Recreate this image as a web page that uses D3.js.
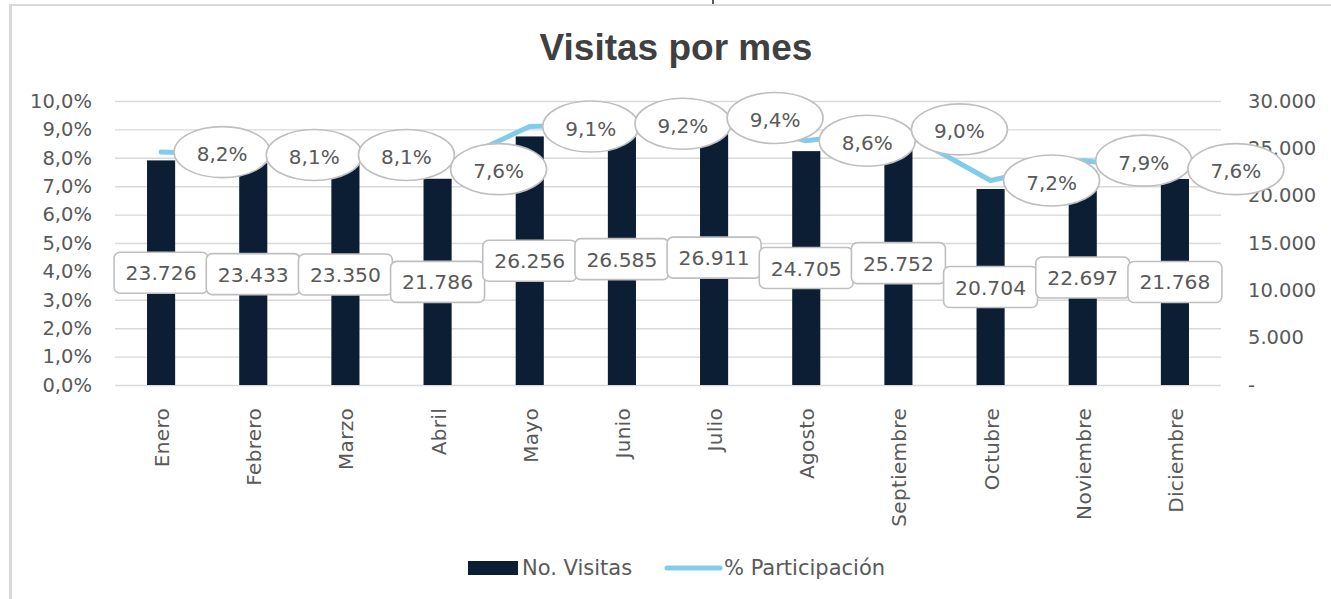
<!DOCTYPE html>
<html>
<head>
<meta charset="utf-8">
<script src="https://cdn.jsdelivr.net/npm/d3@7"></script>
<style>
  body { margin: 0; background: #fff; }
  svg { display: block; }
  text { font-family: "DejaVu Sans", sans-serif; fill: #595959; }
</style>
</head>
<body>
<svg id="chart" width="1331" height="599"></svg>
<script>
// ---- data ----
const titulo = "Visitas por mes";
const meses = ["Enero", "Febrero", "Marzo", "Abril", "Mayo", "Junio", "Julio", "Agosto", "Septiembre", "Octubre", "Noviembre", "Diciembre"];
const visitas = [23726, 23433, 23350, 21786, 26256, 26585, 26911, 24705, 25752, 20704, 22697, 21768];
const participacion = [8.2, 8.1, 8.1, 7.6, 9.1, 9.2, 9.4, 8.6, 9.0, 7.2, 7.9, 7.6];
const pctTicks = [0, 1, 2, 3, 4, 5, 6, 7, 8, 9, 10];
const visTicks = [0, 5000, 10000, 15000, 20000, 25000, 30000];
const leyenda = ["No. Visitas", "% Participación"];

// ---- styles ----
const barColor = "#0c1e34";
const lineColor = "#83cbeb";
const gridColor = "#d9d9d9";
const labelBorder = "#bfbfbf";

const svg = d3.select("#chart");
const plot = { left: 115, right: 1221, top: 101, bottom: 385 };

const locale = d3.formatLocale({ decimal: ",", thousands: ".", grouping: [3], currency: ["", ""] });
const fmtVis = locale.format(",d");
const fmtPct = v => locale.format(".1f")(v) + "%";

// frame
svg.append("line").attr("x1", 9).attr("x2", 1331).attr("y1", 5).attr("y2", 5)
  .attr("stroke", gridColor).attr("stroke-width", 2);
svg.append("line").attr("x1", 10.5).attr("x2", 10.5).attr("y1", 4).attr("y2", 599)
  .attr("stroke", gridColor).attr("stroke-width", 3);
svg.append("line").attr("x1", 713).attr("x2", 713).attr("y1", 0).attr("y2", 4)
  .attr("stroke", "#222").attr("stroke-width", 1.5);

// title
svg.append("text").attr("x", 676).attr("y", 60).attr("text-anchor", "middle")
  .style("font-family", "'Liberation Sans', Arial, sans-serif")
  .style("font-weight", "bold").style("font-size", "37px").style("fill", "#404040")
  .text(titulo);

// scales
const x = d3.scaleBand().domain(meses).range([plot.left, plot.right]).padding(0);
const yPct = d3.scaleLinear().domain([0, 10]).range([plot.bottom, plot.top]);
const yVis = d3.scaleLinear().domain([0, 30000]).range([plot.bottom, plot.top]);
const barW = x.step() * 0.305;
const cx = m => x(m) + x.bandwidth() / 2;

// gridlines
const grid = svg.append("g").attr("transform", `translate(${plot.left},0)`)
  .call(d3.axisLeft(yPct).tickValues(pctTicks).tickSize(-(plot.right - plot.left)).tickFormat(""));
grid.select(".domain").remove();
grid.selectAll("line").attr("stroke", gridColor).attr("stroke-width", 1.4);

// left axis
const axL = svg.append("g").attr("transform", `translate(${plot.left},0)`)
  .call(d3.axisLeft(yPct).tickValues(pctTicks).tickSize(0).tickPadding(23).tickFormat(fmtPct));
axL.select(".domain").remove();
axL.selectAll("text").style("font-size", "19.5px").style("font-family", "'DejaVu Sans', sans-serif").attr("fill", "#595959");

// right axis
const axR = svg.append("g").attr("transform", `translate(${plot.right},0)`)
  .call(d3.axisRight(yVis).tickValues(visTicks).tickSize(0).tickPadding(27)
    .tickFormat(d => d === 0 ? "-" : fmtVis(d)));
axR.select(".domain").remove();
axR.selectAll("text").style("font-size", "19.5px").style("font-family", "'DejaVu Sans', sans-serif").attr("fill", "#595959");

// bottom axis (category labels)
const axB = svg.append("g").attr("transform", `translate(0,${plot.bottom})`)
  .call(d3.axisBottom(x).tickSize(0));
axB.select(".domain").remove();
axB.selectAll("text")
  .attr("transform", "rotate(-90)")
  .attr("x", -23).attr("y", 0).attr("dy", "0.4em")
  .style("text-anchor", "end")
  .style("letter-spacing", "0.3px")
  .style("font-size", "20px").style("font-family", "'DejaVu Sans', sans-serif").attr("fill", "#595959");

// bars
svg.append("g").selectAll("rect").data(meses).join("rect")
  .attr("x", m => cx(m) - barW / 2)
  .attr("width", barW)
  .attr("y", (m, i) => yVis(visitas[i]))
  .attr("height", (m, i) => yVis(0) - yVis(visitas[i]))
  .attr("fill", barColor);

// line
const line = d3.line().x((d, i) => cx(meses[i])).y(d => yPct(d));
svg.append("path").datum(participacion).attr("d", line)
  .attr("fill", "none").attr("stroke", lineColor).attr("stroke-width", 5)
  .attr("stroke-linecap", "round").attr("stroke-linejoin", "round");

// bar data labels
const bl = svg.append("g").selectAll("g").data(meses).join("g")
  .attr("transform", (m, i) => `translate(${cx(m)},${(yVis(visitas[i]) + yVis(0)) / 2})`);
bl.append("rect").attr("class", "box");
bl.append("text").attr("text-anchor", "middle").attr("dy", "0.37em")
  .style("font-size", "20.3px")
  .text((m, i) => fmtVis(visitas[i]));
bl.each(function () {
  const g = d3.select(this);
  const w = g.select("text").node().getComputedTextLength() + 23;
  g.select("rect").attr("x", -w / 2).attr("y", -20.5).attr("width", w).attr("height", 41)
    .attr("rx", 6).attr("fill", "#fff").attr("stroke", labelBorder).attr("stroke-width", 1.6);
});

// percent labels (callout ellipses, to the right of points)
const pl = svg.append("g").selectAll("g").data(meses).join("g")
  .attr("transform", (m, i) => `translate(${cx(m) + 61},${yPct(participacion[i])})`);
pl.append("ellipse").attr("rx", 48).attr("ry", 25.5)
  .attr("fill", "#fff").attr("stroke", labelBorder).attr("stroke-width", 1.6);
pl.append("text").attr("text-anchor", "middle").attr("dy", "0.45em")
  .style("font-size", "20px")
  .text((m, i) => fmtPct(participacion[i]));

// legend
const lg = svg.append("g");
lg.append("rect").attr("x", 468).attr("y", 561).attr("width", 50).attr("height", 14).attr("fill", barColor);
lg.append("text").attr("x", 522).attr("y", 575).style("font-size", "21px").text(leyenda[0]);
lg.append("line").attr("x1", 667).attr("x2", 720).attr("y1", 568).attr("y2", 568)
  .attr("stroke", lineColor).attr("stroke-width", 5).attr("stroke-linecap", "round");
lg.append("text").attr("x", 724).attr("y", 575).style("font-size", "21px").text(leyenda[1]);
</script>
</body>
</html>
